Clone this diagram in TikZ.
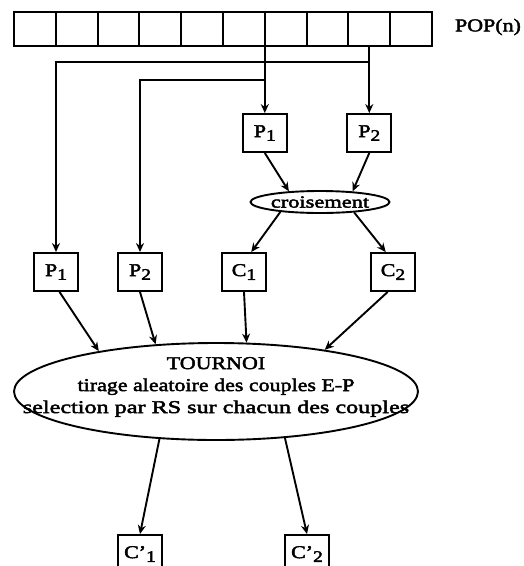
\documentclass[tikz,border=0pt]{standalone}
\usepackage{fontspec}
\setmainfont[FakeStretch=1.22,FakeBold=2.5]{Liberation Serif}
\usetikzlibrary{shapes.geometric,arrows.meta,calc}
% index set slightly below the baseline, as in the box labels
\newcommand\idx[1]{\raisebox{-0.45ex}{\fontsize{16}{16}\selectfont #1}}
\begin{document}
\begin{tikzpicture}[x=1pt,y=-1pt,
  every node/.style={font=\fontsize{18}{22}\selectfont},
  cell/.style={draw,line width=1.9pt,minimum width=41.8pt,minimum height=34pt,inner sep=0pt,outer sep=0pt},
  box/.style={draw,line width=1.9pt,minimum width=44pt,minimum height=38pt,inner sep=0pt},
  oval/.style={draw,ellipse,line width=1.9pt,inner sep=0pt},
  arr/.style={line width=1.9pt,-{Stealth[length=9pt,width=8pt]}},
  link/.style={line width=1.9pt}]
\useasboundingbox (0,0) rectangle (524,566);
\clip (0,0) rectangle (524,566);

% population array
\foreach \i in {1,...,10}
  \node[cell] (c\i) at ({14+41.8*(\i-0.5)},29) {};
\node (pop) at (488,27) {POP(n)};

% branch points on the feed lines
\coordinate (j1) at (c9.south |- 0,62);
\coordinate (j2) at (c6.south east |- 0,80);

% parents selected for crossover
\node[box] (tp1) at (c6.south east |- 0,133) {P\idx{1}};
\node[box] (tp2) at (c9.south |- 0,133) {P\idx{2}};
\node[oval,minimum width=130pt,minimum height=22pt,font=\fontsize{17}{18}\selectfont] (cr) at (320,202) {\scalebox{1.08}[1]{croisement}};

% parents and children entering the tournament
\node[box] (p1) at (56,272) {P\idx{1}};
\node[box] (p2) at (140,272) {P\idx{2}};
\node[box] (k1) at (244,272) {C\idx{1}};
\node[box] (k2) at (393,272) {C\idx{2}};

% tournament
\node[oval,minimum width=404pt,minimum height=97pt] (tour) at (216,391.5) {};
\node[align=center] (tourtext) at (216,387) {TOURNOI\\tirage aleatoire des couples E-P\\\scalebox{1.1}[1]{selection par RS sur chacun des couples}};

% survivors
\node[box] (cp1) at (140,554) {C'\idx{1}};
\node[box] (cp2) at (307,554) {C'\idx{2}};

% connectors
\draw[arr] (c6.south east) -- (tp1.north);
\draw[arr] (c9.south) -- (tp2.north);
\draw[arr] (j1) -| (p1.north);
\draw[arr] (j2) -| (p2.north);

\draw[arr] (tp1.south) -- (cr.161);
\draw[arr] (tp2.south) -- (cr.18);
\draw[arr] (cr.194) -- (k1.70);
\draw[arr] (cr.-17) -- (k2.110);

\draw[arr] (p1.-80) -- (tour.161.6);
\draw[arr] (p2.south) -- (tour.142.4);
\draw[arr] (k1.south) -- (tour.58.6);
\draw[arr] (k2.-105) -- (tour.21.8);

\draw[arr] (tour.220.9) -- (cp1.north);
\draw[arr] (tour.-34) -- (cp2.north);
\end{tikzpicture}
\end{document}
